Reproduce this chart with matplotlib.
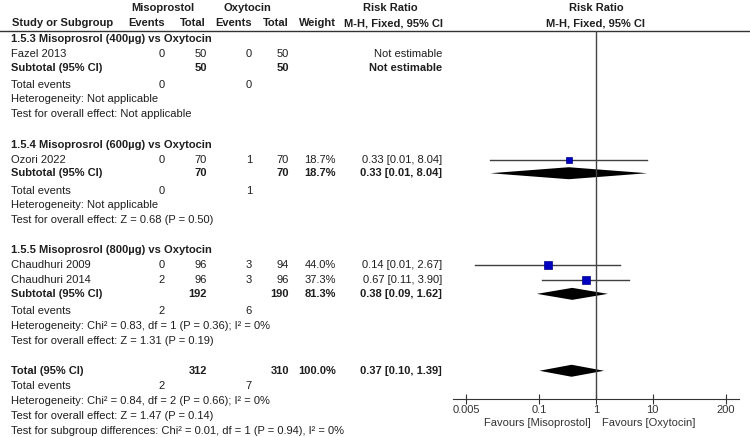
import numpy as np
import matplotlib
matplotlib.use("Agg")
import matplotlib.pyplot as plt
from matplotlib.ticker import NullLocator

# data
studies = ["Fazel 2013", "Ozori 2022", "Chaudhuri 2009", "Chaudhuri 2014"]
miso_events = [0, 0, 0, 2]
miso_total = [50, 70, 96, 96]
oxy_events = [0, 1, 3, 3]
oxy_total = [50, 70, 94, 96]
weights = [None, 18.7, 44.0, 37.3]
rr = [None, 0.33, 0.14, 0.67]
rr_lo = [None, 0.0135, 0.0073, 0.113]
rr_hi = [None, 8.04, 2.67, 3.90]

sub_names = ["1.5.3 Misoprosrol (400µg) vs Oxytocin",
             "1.5.4 Misoprosrol (600µg) vs Oxytocin",
             "1.5.5 Misoprosrol (800µg) vs Oxytocin"]
sub_studies = [[0], [1], [2, 3]]
sub_miso_total = [50, 70, 192]
sub_oxy_total = [50, 70, 190]
sub_miso_events = [0, 0, 2]
sub_oxy_events = [0, 1, 6]
sub_weight = [None, 18.7, 81.3]
sub_rr = [None, 0.33, 0.38]
sub_lo = [None, 0.0135, 0.09]
sub_hi = [None, 8.04, 1.62]
sub_het = ["Not applicable", "Not applicable", "Chi² = 0.83, df = 1 (P = 0.36); I² = 0%"]
sub_test = ["Not applicable", "Z = 0.68 (P = 0.50)", "Z = 1.31 (P = 0.19)"]

tot_miso_total, tot_oxy_total = 312, 310
tot_miso_events, tot_oxy_events = 2, 7
tot_weight = 100.0
tot_rr, tot_lo, tot_hi = 0.37, 0.10, 1.39
tot_het = "Chi² = 0.84, df = 2 (P = 0.66); I² = 0%"
tot_test = "Z = 1.47 (P = 0.14)"
subgroup_test = "Chi² = 0.01, df = 1 (P = 0.94), I² = 0%"

ticks = [0.005, 0.1, 1, 10, 200]
tick_labels = ["0.005", "0.1", "1", "10", "200"]

plt.rcParams['font.family'] = ['Liberation Sans', 'DejaVu Sans']
fs = 8
tc = '#1e1e1e'

fig = plt.figure(figsize=(7.5, 4.37), dpi=100)
tx = fig.add_axes([0, 0, 1, 1])
tx.set_xlim(0, 750)
tx.set_ylim(437, 0)
tx.axis('off')

ax = fig.add_axes([453/750, (437-399)/437, (739-453)/750, (399-31)/437])
ax.set_xscale('log')
ax.set_xlim(10**-2.53, 10**2.53)
ax.set_ylim(399, 31)
ax.patch.set_alpha(0)
for s in ['top', 'left', 'right']:
    ax.spines[s].set_visible(False)
ax.spines['bottom'].set_color('#333333')
ax.set_yticks([])
ax.set_xticks(ticks)
ax.set_xticklabels(tick_labels)
ax.xaxis.set_minor_locator(NullLocator())
ax.tick_params(axis='x', direction='inout', length=7, width=0.8, pad=1,
               labelsize=fs, colors='#333333')
ax.axvline(1, color='#444444', lw=1)


def put(x, y, s, ha='left', bold=False):
    tx.text(x, y, s, ha=ha, va='center', fontsize=fs, color=tc,
            fontweight='bold' if bold else 'normal')


def pct(w):
    return "%.1f%%" % w


def ci(r, lo, hi):
    return "%.2f [%.2f, %.2f]" % (r, lo, hi)


def diamond(r, lo, hi, y, h=6):
    ax.fill([lo, r, hi, r], [y, y - h, y, y + h], color='black', lw=0)


# columns
x_lab = 11
x_me, x_mt, x_oe, x_ot, x_w, x_rr = 165, 207, 252, 289, 336, 442

# header
put(163, 8, "Misoprostol", 'center', True)
put(247, 8, "Oxytocin", 'center', True)
put(390, 8, "Risk Ratio", 'center', True)
put(596, 8, "Risk Ratio", 'center', True)
put(12, 23, "Study or Subgroup", bold=True)
put(147, 23, "Events", 'center', True)
put(193, 23, "Total", 'center', True)
put(234, 23, "Events", 'center', True)
put(276, 23, "Total", 'center', True)
put(317, 23, "Weight", 'center', True)
put(394, 23, "M-H, Fixed, 95% CI", 'center', True)
put(596, 23, "M-H, Fixed, 95% CI", 'center', True)
tx.plot([0, 750], [31, 31], color='#333333', lw=1)

step = 15.08


def row_y(i):
    return 39 + step * i


row = 0
for g in range(len(sub_names)):
    put(x_lab, row_y(row), sub_names[g], bold=True)
    row += 1
    for k in sub_studies[g]:
        y = row_y(row)
        put(x_lab, y, studies[k])
        put(x_me, y, str(miso_events[k]), 'right')
        put(x_mt, y, str(miso_total[k]), 'right')
        put(x_oe, y, str(oxy_events[k]), 'right')
        put(x_ot, y, str(oxy_total[k]), 'right')
        if rr[k] is None:
            put(x_rr, y, "Not estimable", 'right')
        else:
            put(x_w, y, pct(weights[k]), 'right')
            put(x_rr, y, ci(rr[k], rr_lo[k], rr_hi[k]), 'right')
            ax.plot([rr_lo[k], rr_hi[k]], [y, y], color='#404040', lw=1)
            ax.plot(rr[k], y, marker='s', ls='none',
                    ms=0.9 * np.sqrt(weights[k]), color='#0000c0',
                    mec='#00008a', mew=0.5)
        row += 1
    y = row_y(row) - 1.5
    put(x_lab, y, "Subtotal (95% CI)", bold=True)
    put(x_mt, y, str(sub_miso_total[g]), 'right', True)
    put(x_ot, y, str(sub_oxy_total[g]), 'right', True)
    if sub_rr[g] is None:
        put(x_rr, y, "Not estimable", 'right', True)
    else:
        put(x_w, y, pct(sub_weight[g]), 'right', True)
        put(x_rr, y, ci(sub_rr[g], sub_lo[g], sub_hi[g]), 'right', True)
        diamond(sub_rr[g], sub_lo[g], sub_hi[g], y)
    row += 1
    y = row_y(row) + 1
    put(x_lab, y, "Total events")
    put(x_me, y, str(sub_miso_events[g]), 'right')
    put(x_oe, y, str(sub_oxy_events[g]), 'right')
    row += 1
    put(x_lab, row_y(row), "Heterogeneity: " + sub_het[g])
    row += 1
    put(x_lab, row_y(row), "Test for overall effect: " + sub_test[g])
    row += 2

y = row_y(row)
put(x_lab, y, "Total (95% CI)", bold=True)
put(x_mt, y, str(tot_miso_total), 'right', True)
put(x_ot, y, str(tot_oxy_total), 'right', True)
put(x_w, y, pct(tot_weight), 'right', True)
put(x_rr, y, ci(tot_rr, tot_lo, tot_hi), 'right', True)
diamond(tot_rr, tot_lo, tot_hi, y)
row += 1
y = row_y(row)
put(x_lab, y, "Total events")
put(x_me, y, str(tot_miso_events), 'right')
put(x_oe, y, str(tot_oxy_events), 'right')
row += 1
put(x_lab, row_y(row), "Heterogeneity: " + tot_het)
row += 1
put(x_lab, row_y(row), "Test for overall effect: " + tot_test)
row += 1
put(x_lab, row_y(row), "Test for subgroup differences: " + subgroup_test)

tx.text(591, 423, "Favours [Misoprostol]", ha='right', va='center', fontsize=fs, color='#333333')
tx.text(602, 423, "Favours [Oxytocin]", ha='left', va='center', fontsize=fs, color='#333333')

fig.savefig('out.png', dpi=100)
